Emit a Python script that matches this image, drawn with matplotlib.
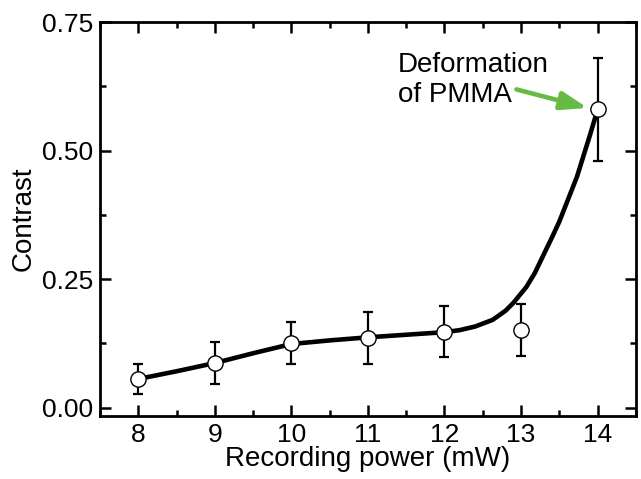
import matplotlib.pyplot as plt
from matplotlib.ticker import MultipleLocator

plt.rcParams['font.family'] = ['Liberation Sans', 'DejaVu Sans']

# measured contrast vs recording power
power = [8, 9, 10, 11, 12, 13, 14]
contrast = [0.056, 0.087, 0.126, 0.136, 0.148, 0.151, 0.58]
err = [0.03, 0.04, 0.04, 0.05, 0.05, 0.05, 0.10]

# guide-to-the-eye curve
fit_x = [8, 8.5, 9, 9.5, 10, 10.5, 11, 11.5, 12, 12.2, 12.4, 12.63, 12.8,
         12.9, 13.07, 13.18, 13.28, 13.4, 13.5, 13.73, 13.9, 14]
fit_y = [0.056, 0.071, 0.087, 0.106, 0.124, 0.131, 0.137, 0.142, 0.147, 0.151,
         0.158, 0.171, 0.189, 0.204, 0.235, 0.262, 0.293, 0.330, 0.362, 0.449,
         0.530, 0.58]

fig = plt.figure(figsize=(6.41, 4.79), dpi=100)
ax = fig.add_axes([0.156, 0.1315, 0.836, 0.8225])

ax.plot(fit_x, fit_y, color='black', lw=3.3, zorder=2,
        solid_joinstyle='round', solid_capstyle='round')
ax.errorbar(power, contrast, yerr=err, fmt='none', ecolor='black',
            elinewidth=1.6, capsize=3.8, capthick=1.6, zorder=3)
ax.plot(power, contrast, 'o', ms=11, mfc='white', mec='black', mew=1.0, zorder=4)

# label and arrow for the last point
ax.text(11.39, 0.692, 'Deformation\nof PMMA', fontsize=20, ha='left', va='top',
        linespacing=1.2)
ax.annotate('', xy=(13.87, 0.583), xytext=(12.94, 0.619),
            arrowprops=dict(arrowstyle='-|>,head_length=1.6,head_width=0.55',
                            mutation_scale=10, color='#66bb44', lw=3.3,
                            shrinkA=0, shrinkB=0))

ax.set_xlim(7.5, 14.5)
ax.set_ylim(-0.016, 0.75)
ax.xaxis.set_major_locator(MultipleLocator(1))
ax.xaxis.set_minor_locator(MultipleLocator(0.5))
ax.yaxis.set_major_locator(MultipleLocator(0.25))
ax.yaxis.set_minor_locator(MultipleLocator(0.125))
ax.yaxis.set_major_formatter(plt.FormatStrFormatter('%.2f'))

ax.tick_params(which='both', direction='in', top=True, right=True,
               labelsize=19, width=1.8)
ax.tick_params(which='major', length=8, pad=5)
ax.tick_params(which='minor', length=4.5)
for s in ax.spines.values():
    s.set_linewidth(2)

ax.set_xlabel('Recording power (mW)', fontsize=20, labelpad=-1)
ax.set_ylabel('Contrast', fontsize=20, labelpad=4)

fig.savefig('out.png', dpi=100)
